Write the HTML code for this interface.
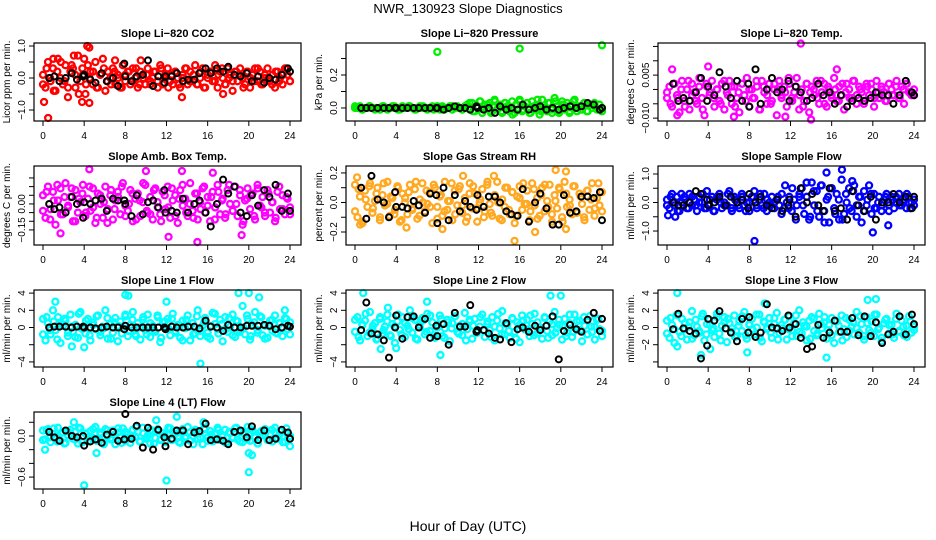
<!DOCTYPE html>
<html><head><meta charset="utf-8"><style>
html,body{margin:0;padding:0;background:#fff}
svg{display:block}
text{font-family:"Liberation Sans",sans-serif;fill:#000}
</style></head><body>
<svg id="fig" width="936" height="540" viewBox="0 0 936 540" xmlns="http://www.w3.org/2000/svg">
<text x="468" y="13" font-size="13" text-anchor="middle">NWR_130923  Slope Diagnostics</text>
<text x="468" y="531" font-size="14" text-anchor="middle">Hour of Day (UTC)</text>
</svg>
<script>
const blackX=[0.6,1.1,1.6,2.2,2.8,3.3,3.9,4.0,4.6,5.1,5.7,6.2,6.8,7.3,7.9,8.0,8.6,9.1,9.7,10.2,10.7,11.2,11.8,11.9,12.5,13.0,13.6,14.1,14.7,15.2,15.8,16.3,16.9,17.5,18.0,18.6,19.2,19.8,20.3,20.9,21.5,22.0,22.6,23.2,23.8,24.0];
const xTicks=[0,4,8,12,16,20,24];

const co2Color=[1,-3,5,-1,3,-4,6,0,-2,4,-6,2,3,-3,7,-1,1,-5,4,2,-2,5,-3,1,6,-4,2,0,3,-2,1,-3,4,-1,2,-2,3,0,-3,2,1,-2,3,-1,0,2,-3,4,-2,1,3,-1,-2,2,0,-3,1,3,-2,2,-1,4,-2,0,3,-3,1,2,-1,4,-3,2,0,-2,3,1,-4,2,-1,3,0,-2,2,-3,1,3,-1,2,-2,0,3,-1,1,-3,2,0,-2,3,1,-1];
const co2Color2=[-2,3,0,-4,2,5,-1,-3,4,1,-5,3,-2,0,2,-3,1,3,-1,-2,2,0,-3,1,2,-1,3,-2,0,1,-2,2,-1,3,0,-3,1,2,-2,0,3,-1,1,-2,2,-3,0,2,-1,1,3,-2,0,-1,2,1,-3,2,0,-1,3,-2,1,0,-2,2,-1,1,3,-1];
const co2OutX=[4.3,4.5,0.1,0.5,4.5,3.8,17.5,13.5,1,9.5,7,3,4];
const co2OutY=[1.0,0.95,-0.75,-1.25,-0.78,-0.75,-0.5,-0.6,0.6,0.55,0.55,0.7,0.6];
const co2Black=[0,0.05,-0.1,0,0.15,-0.05,0.05,0.1,-0.05,-0.15,0.15,-0.1,0,-0.25,0.45,0.05,-0.1,0.05,0.1,0.55,-0.25,0.05,-0.15,0.05,0.05,0.15,-0.1,-0.05,-0.05,0.15,0.3,0.15,0.3,0.2,0.35,0.1,0.05,0.15,-0.1,0.05,-0.15,0,-0.05,0.1,0.3,0.2];

const presColor=[0,0,1,-1,0,0,1,0,-1,0,0,1,0,-1,0,1,0,0,-1,1,0,0,1,0,-1,0,1,0,0,-1,0,1,0,0,-1,1,0,0,1,-1,0,1,0,-1,1,2,-1,3,-2,1,4,-3,2,0,3,-2,4,-1,2,-3,3,1,-2,4,-3,2,5,-2,1,3,-3,4,-1,2,-4,5,0,-2,3,-3,6,1,-2,4,-1,3,-3,2,5,-2,1,-1,3,-2,2,0,3,-1,2,-2];
const presColor2=[1,0,-1,0,1,0,0,-1,1,0,0,1,-1,0,0,1,0,-1,0,1,0,0,-1,1,0,-1,0,1,0,0,-1,1,3,-2,1,4,-1,2,-3,5,0,-2,3,1,-4,2,4,-1,3,-3,1,5,-2,0,3,-1,4,-3,2,1,-2,4,0,-1,3,-2,2,1,-1,0];
const presOutX=[8,16,24];
const presOutY=[0.34,0.36,0.38];
const presBlack=[0,0,0,0,0,0,0,0,0,0,0,0,0,0,0,0,-1,0,1,0,0,-1,1,0,-1,0,-3,1,-1,0,-1,2,-1,0,1,-1,0,-1,0,1,0,1,3,2,-1,0];

const tempColor=[-3,1,-6,2,-2,-8,3,-4,0,-7,2,-1,-5,4,-3,-9,1,-2,3,-6,0,-4,2,-7,-1,3,-5,1,-3,-8,2,-2,4,-6,0,-3,1,-7,3,-1,-5,2,-4,0,-9,3,-2,1,-6,2,-3,-1,4,-7,0,-4,2,-8,1,-2,3,-5,-1,2,-6,0,-3,4,-4,1,-2,-7,2,0,-3,3,-5,1,-1,-4,2,-2,0,-6,3,-3,1,-1,-4,2,0,-2,3,-3,1,-5,2,-1,-2,0];
const tempColor2=[-1,-5,2,-3,0,-6,3,-2,-4,1,-7,2,-1,-3,0,-5,3,-2,1,-6,-1,2,-4,0,-3,3,-7,1,-2,-5,2,0,-3,-1,4,-4,1,-2,-6,2,-1,0,-3,3,-5,1,-2,0,-4,2,-1,-3,3,-2,0,-5,1,2,-3,-1,0,-4,2,-2,1,-3,0,2,-1,-2];
const tempOutX=[0.5,4,13,14,16.5,6.5,11.5,1];
const tempOutY=[0.007,0.008,0.016,-0.0105,0.007,-0.0095,-0.0095,-0.009];
const tempBlack=[2,-4,-3,-4,-1,4,-4,1,-2,6,1,-3,3,-4,2,-6,7,-5,0,4,-1,0,3,-4,1,-1,-4,-3,2,-2,-1,-5,-2,-6,-4,-3,-4,-3,-1,-2,-2,-5,-2,3,-1,-2];

const ambColor=[5,-8,10,-3,7,-12,2,9,-6,12,-2,4,-10,8,-5,1,11,-7,3,-4,9,-11,6,0,-8,10,-3,5,-9,2,7,-6,12,-1,-4,8,-10,3,6,-7,1,11,-5,4,-9,9,-2,-6,7,-3,10,-8,2,5,-11,8,-1,3,-7,12,-4,6,-9,1,9,-5,4,-10,7,-2,11,-6,3,-8,8,0,-4,10,-7,5,-12,2,9,-3,6,-9,11,-1,4,-7,8,-5,1,-10,7,-3,5,-6,3,-2];
const ambColor2=[-4,7,-9,2,11,-6,4,-1,9,-10,3,6,-5,10,-2,-8,5,1,-11,8,-3,4,10,-7,0,6,-9,2,12,-4,-6,8,1,-10,5,-2,9,-7,3,11,-5,0,-8,6,-3,10,-1,4,-9,7,2,-6,11,-4,0,8,-10,3,5,-7,9,-2,-5,6,1,-8,10,-3,4,-6];
const ambOutX=[4.5,10,13.5,15,12.2,1.7,19.3,16.5];
const ambOutY=[0.2,0.19,0.19,-0.22,-0.19,-0.17,-0.18,0.18];
const ambBlack=[0,-3,-2,-5,4,0,-8,1,0,2,3,-4,3,2,2,0,-7,5,-6,1,2,-2,8,-5,-4,-5,3,-5,0,2,-5,-13,0,14,6,10,-5,-7,5,-1,8,4,11,-4,6,-4];

const rhColor=[12,-10,4,-14,8,-3,13,-7,1,10,-12,5,-2,14,-9,3,-5,11,-13,6,0,-8,12,-4,9,-11,2,13,-6,-1,7,-14,10,-3,4,-9,14,-5,1,-12,8,-2,11,-7,3,-10,13,-4,6,-13,0,9,-6,12,-1,-9,5,14,-11,2,-3,10,-8,7,-14,4,11,-5,-1,8,-12,13,-2,3,-9,10,-6,1,12,-13,5,-4,9,-10,14,-3,2,-8,11,-7,6,-1,-12,8,-5,13,-9,3,-2,7];
const rhColor2=[-6,9,-13,2,11,-4,6,-10,13,-1,4,-8,10,-12,3,7,-5,14,-9,0,8,-3,12,-11,5,-6,1,13,-8,9,-2,-13,6,11,-4,2,-10,14,-7,4,0,-12,10,-5,7,-9,3,13,-1,-6,9,-11,5,12,-3,-8,1,10,-13,6,-2,11,-7,4,-10,8,2,-4,13,-6];
const rhOutX=[0.2,10.5,13.5,19.5,20.5,0.5,8.5,15.5,17.5,20.5,5];
const rhOutY=[0.17,0.18,0.18,0.22,0.21,-0.15,-0.18,-0.26,-0.2,-0.18,-0.17];
const rhBlack=[10,-11,18,2,0,-10,7,-3,-3,-4,1,-2,-7,6,5,-14,10,-12,5,-6,1,-3,-5,5,-3,4,4,0,-6,-8,-9,9,-13,0,6,-4,-15,-15,5,-7,-6,4,4,3,7,-12];

const sfColor=[1,-2,3,-1,2,-3,0,2,-2,3,-1,1,-3,2,0,-2,4,-1,2,-3,1,3,-2,0,-1,4,-3,2,1,-2,3,-1,0,-3,2,4,-2,1,-1,3,-3,0,2,-2,1,-1,3,-2,0,2,-3,1,-1,2,5,-4,2,-6,7,-1,4,-5,6,-3,1,-7,5,-2,3,-6,8,-4,0,5,-3,6,-5,2,-7,4,-1,6,-4,3,-2,2,-3,1,3,-1,2,-2,0,3,-1,1,-2,2,0,-1];
const sfColor2=[-1,2,0,-3,3,1,-2,2,-1,0,3,-2,1,-3,2,0,-1,3,-2,1,-1,2,-3,0,2,-1,3,-2,1,-1,0,2,-4,6,-2,5,-6,3,-1,7,-5,4,-3,6,-7,2,5,-4,1,-6,3,-2,4,-1,2,-3,1,3,-2,0,-1,2,-3,1,2,-1,0,3,-2,1];
const sfOutX=[8.5,15.5,17,20,21.5,18,0.1,0.8];
const sfOutY=[-1.35,1.05,1.15,-1.05,-0.8,0.75,-0.45,-0.5];
const sfBlack=[0,-1,-1,0,4,3,1,-1,0,2,-1,2,0,1,-2,3,0,2,-1,-2,1,-3,-1,1,-5,5,0,3,-1,-3,5,-3,-2,-6,4,-1,-3,2,-6,0,0,3,0,2,-2,2];

const l1Color=[10,-15,5,-8,20,-3,12,-18,2,8,-10,15,-5,3,-12,18,0,-7,10,-15,6,-2,14,-9,1,20,-13,4,-6,11,-16,7,-1,13,-10,3,18,-8,5,-14,9,-3,15,-11,2,-5,12,-17,6,0,10,-9,16,-4,3,-12,8,-1,14,-15,5,-7,20,-10,2,11,-6,-13,17,4,-2,9,-16,12,-5,1,15,-11,7,-3,25,-8,10,-14,3,18,-6,13,-9,2,-12,8,-4,14,-7,5,-10,11,-2,6];
const l1Color2=[-8,12,-3,7,-14,4,10,-6,1,-11,16,-2,8,-9,3,13,-5,-1,11,-13,6,2,-7,15,-4,9,-10,0,12,-8,5,-3,14,-12,7,-1,10,-6,3,-15,9,1,-8,13,-4,6,-11,2,16,-7,4,-2,11,-9,8,-5,0,14,-10,6,-3,12,-13,2,9,-6,5,-1,10,-8];
const l1OutX=[1.2,8,8.3,19,20,15.3,12,21,2.8,4,23.5];
const l1OutY=[3,3.8,3.7,4,4,-4.2,3,3.5,-2.2,-2.3,2];
const l1Black=[0,1,1,1,0,1,1,0,0,-1,0,1,0,0,-2,2,0,0,0,0,0,0,0,-2,1,0,0,1,1,-1,8,1,0,-4,3,0,0,2,2,2,3,2,-2,0,2,1];

const l2Color=[-5,12,-15,3,8,-10,18,-2,5,-13,10,-7,1,15,-9,4,-18,7,-3,12,-11,2,20,-6,9,-14,0,11,-8,16,-4,6,-12,3,14,-10,-1,9,-16,5,13,-5,2,-9,17,-2,7,-13,10,-6,1,15,-11,4,-3,12,-15,8,-1,19,-8,3,-12,11,-5,6,-17,14,-2,9,-10,4,16,-7,0,-13,12,-4,7,-9,18,-1,3,-14,10,-6,5,-11,15,-3,8,-16,2,-8,13,-5,1,9,-2,-10];
const l2Color2=[9,-11,4,16,-6,2,-14,12,-3,7,-10,1,15,-8,5,-2,11,-13,3,8,-5,14,-9,0,10,-12,6,-1,13,-7,4,-15,9,2,-6,12,-3,7,-11,1,16,-8,5,-4,10,-13,3,8,-2,14,-9,6,-1,11,-12,4,-6,9,2,-10,15,-5,7,-3,12,-8,1,-14,10,-4];
const l2OutX=[0.8,8.3,4,19,20,2.5,7,3.2];
const l2OutY=[4,-3.2,-2.4,3.7,3.7,-2.5,3,2.3];
const l2Black=[-3,29,-7,-8,-15,-35,0,14,-13,12,13,0,10,-12,2,-10,4,-20,17,1,1,26,-5,-3,-3,-7,-12,-14,5,-17,-2,0,-5,2,-3,2,13,-37,-4,3,-2,-5,9,17,-4,10];

const l3Color=[8,-12,3,-18,15,-5,10,-2,-14,6,19,-9,1,-6,13,-15,4,9,-3,-11,16,-7,2,12,-17,5,-1,14,-10,7,-4,18,-13,3,10,-8,0,15,-16,6,-2,11,-12,4,17,-6,-1,9,-14,13,-3,5,-10,20,-7,2,-15,8,12,-4,-9,16,-1,6,-13,3,11,-18,7,-5,14,-2,-11,9,1,-8,18,-6,4,-14,12,-3,7,-10,15,0,-16,5,10,-7,3,-12,16,-4,8,-9,2,13,-6,1];
const l3Color2=[-7,11,-2,14,-10,5,1,-13,9,-4,16,-8,3,-1,12,-15,6,10,-5,-11,2,13,-9,4,-3,15,-12,7,0,-6,11,-14,3,9,-2,-10,14,-5,6,1,-13,10,-7,4,12,-3,-9,8,2,-15,11,-4,6,-1,13,-10,5,-6,15,-2,-12,9,3,-8,10,-5,1,-11,7,-3];
const l3OutX=[1,3.3,7.8,9.5,15.5,19.5,20.3,1,4.2];
const l3OutY=[4,-3.2,-2.9,2.8,-3.5,3.2,3.3,-2.2,-2.5];
const l3Black=[-2,16,-1,-4,-7,-36,-21,10,8,19,-1,-6,-16,10,-6,12,-11,-6,27,0,-1,-4,14,0,4,-12,-25,-22,3,-12,-6,8,-5,-5,11,-9,13,-10,6,-18,-8,-5,13,-8,15,4];

const l4Color=[8,-5,10,-9,3,-2,12,-7,5,-10,1,9,-4,6,-11,11,-1,4,-8,7,-3,13,-6,2,-9,10,0,-5,8,-12,5,-2,11,-7,3,-10,9,-1,6,-8,12,-4,1,-11,7,-3,10,-6,4,-9,2,11,-5,8,-1,-10,6,-3,13,-7,0,9,-4,5,-12,10,-2,7,-8,3,12,-6,-1,9,-10,4,-3,11,-5,6,-9,2,13,-7,8,-2,-11,5,1,10,-6,3,-8,12,-4,7,-1,-9,4,0];
const l4Color2=[-6,9,-2,11,-8,4,-11,7,1,-5,12,-9,3,-1,10,-7,5,-12,8,-3,2,11,-10,6,-4,0,13,-8,4,-2,9,-11,7,-5,1,12,-6,3,-9,10,-1,5,-12,8,-3,11,-7,2,-4,9,0,-10,6,-2,12,-8,4,-5,10,-1,-11,7,3,-6,9,-3,1,-9,11,-4];
const l4OutX=[4,12,20,0.2,13,11,20,20.3,5.2,3,15.6,24];
const l4OutY=[-0.72,-0.65,-0.53,-0.2,0.28,0.23,-0.25,-0.28,-0.25,0.2,0.2,-0.15];
const l4Black=[6,-2,-7,8,0,-2,0,-14,-8,-5,-10,2,6,-7,-5,32,-4,15,-17,12,-20,9,-2,-15,-4,8,8,-12,5,7,18,-6,-5,-7,-12,6,8,-2,14,-6,8,-6,-4,9,5,-4];

const rowTop=[43,166,290,412], rowBot=[121,245,367,489];
const panels=[
 {id:'co2',title:'Slope Li\u2212820 CO2',ylab:'Licor ppm per min.',c:0,r:0,col:'#ff0000',ylim:[-1.344,1.094],ticks:[-1,-0.5,0,0.5,1],labs:{'1':'1.0','0':'0.0','-1':'\u22121.0'},s:0.1,cy:co2Color,cy2:co2Color2,ox:co2OutX,oy:co2OutY,by:co2Black,bs:1},
 {id:'pressure',title:'Slope Li\u2212820 Pressure',ylab:'kPa per min.',c:1,r:0,col:'#00ee00',ylim:[-0.079,0.394],ticks:[0,0.1,0.2,0.3],labs:{'0':'0.0','0.2':'0.2'},s:0.01,cy:presColor,cy2:presColor2,ox:presOutX,oy:presOutY,by:presBlack,bs:0.01},
 {id:'li820-temp',title:'Slope Li\u2212820 Temp.',ylab:'degrees C per min.',c:2,r:0,col:'#ff00ff',ylim:[-0.011,0.0162],ticks:[-0.01,-0.005,0,0.005,0.01,0.015],labs:{'0.005':'0.005','-0.01':'\u22120.010'},s:0.001,cy:tempColor,cy2:tempColor2,ox:tempOutX,oy:tempOutY,by:tempBlack,bs:0.001},
 {id:'amb-box-temp',title:'Slope Amb. Box Temp.',ylab:'degrees C per min.',c:0,r:1,col:'#ff00ff',ylim:[-0.237,0.219],ticks:[-0.15,-0.1,-0.05,0,0.05,0.1,0.15],labs:{'0':'0.00','-0.15':'\u22120.15'},s:0.01,cy:ambColor,cy2:ambColor2,ox:ambOutX,oy:ambOutY,by:ambBlack,bs:0.01},
 {id:'gas-stream-rh',title:'Slope Gas Stream RH',ylab:'percent per min.',c:1,r:1,col:'#ffa820',ylim:[-0.288,0.247],ticks:[-0.2,-0.1,0,0.1,0.2],labs:{'0.2':'0.2','0':'0.0','-0.2':'\u22120.2'},s:0.01,cy:rhColor,cy2:rhColor2,ox:rhOutX,oy:rhOutY,by:rhBlack,bs:0.01},
 {id:'sample-flow',title:'Slope Sample Flow',ylab:'ml/min per min.',c:2,r:1,col:'#0000ff',ylim:[-1.49,1.28],ticks:[-1,-0.5,0,0.5,1],labs:{'1':'1.0','0':'0.0','-1':'\u22121.0'},s:0.1,cy:sfColor,cy2:sfColor2,ox:sfOutX,oy:sfOutY,by:sfBlack,bs:0.1},
 {id:'line1-flow',title:'Slope Line 1 Flow',ylab:'ml/min per min.',c:0,r:2,col:'#00ffff',ylim:[-4.59,4.36],ticks:[-4,-2,0,2,4],labs:{'4':'4','2':'2','0':'0','-4':'\u22124'},s:0.1,cy:l1Color,cy2:l1Color2,ox:l1OutX,oy:l1OutY,by:l1Black,bs:0.1},
 {id:'line2-flow',title:'Slope Line 2 Flow',ylab:'ml/min per min.',c:1,r:2,col:'#00ffff',ylim:[-4.59,4.36],ticks:[-4,-2,0,2,4],labs:{'4':'4','2':'2','0':'0','-4':'\u22124'},s:0.1,cy:l2Color,cy2:l2Color2,ox:l2OutX,oy:l2OutY,by:l2Black,bs:0.1},
 {id:'line3-flow',title:'Slope Line 3 Flow',ylab:'ml/min per min.',c:2,r:2,col:'#00ffff',ylim:[-4.59,4.36],ticks:[-4,-2,0,2,4],labs:{'4':'4','2':'2','0':'0','-2':'\u22122'},s:0.1,cy:l3Color,cy2:l3Color2,ox:l3OutX,oy:l3OutY,by:l3Black,bs:0.1},
 {id:'line4-flow',title:'Slope Line 4 (LT) Flow',ylab:'ml/min per min.',c:0,r:3,col:'#00ffff',ylim:[-0.774,0.35],ticks:[-0.6,-0.4,-0.2,0,0.2],labs:{'0':'0.0','-0.6':'\u22120.6'},s:0.01,cy:l4Color,cy2:l4Color2,ox:l4OutX,oy:l4OutY,by:l4Black,bs:0.01}
];
const NS='http://www.w3.org/2000/svg';
const fig=document.getElementById('fig');
function mk(tag,attrs,parent){const e=document.createElementNS(NS,tag);for(const k in attrs)e.setAttribute(k,attrs[k]);(parent||fig).appendChild(e);return e;}
panels.forEach(p=>{
  const L=34+312*p.c, R=L+267, T=rowTop[p.r], B=rowBot[p.r];
  const g=mk('g',{});
  
  
  const xs=v=>L+(v+0.875)/(25.07+0.875)*(R-L);
  const ys=v=>B-(v-p.ylim[0])/(p.ylim[1]-p.ylim[0])*(B-T);
  const t=mk('text',{x:(L+R)/2,y:T-6,'font-size':11,'font-weight':'bold','text-anchor':'middle'},g);
  t.textContent=p.title;
  
  
  const pts=mk('g',{fill:'none'},g);
  
  
  [p.cy,p.cy2].forEach(arr=>{
    const n=arr.length;
    arr.forEach((v,i)=>{
      const c=mk('circle',{cx:xs(i*24/(n-1)),cy:ys(v*p.s),r:3,stroke:p.col,'stroke-width':2.3},pts);
      
      
    });
  });
  p.ox.forEach((x,i)=>{
    const c=mk('circle',{cx:xs(x),cy:ys(p.oy[i]),r:3,stroke:p.col,'stroke-width':2.3},pts);
    
    
  });
  const m=Math.min(blackX.length,p.by.length);
  for(let i=0;i<m;i++){
    const c=mk('circle',{cx:xs(blackX[i]),cy:ys(p.by[i]*p.bs),r:3,stroke:'#000','stroke-width':2},pts);
    
    
  }
  const bx=mk('rect',{x:L,y:T,width:R-L,height:B-T,fill:'none',stroke:'#000','stroke-width':1.2},g);
  
  
  const xa=mk('g',{},g);
  
  
  mk('line',{x1:xs(0),x2:xs(24),y1:B,y2:B,stroke:'#000'},xa);
  xTicks.forEach(v=>{
    mk('line',{x1:xs(v),x2:xs(v),y1:B,y2:B+5,stroke:'#000'},xa);
    const tl=mk('text',{x:xs(v),y:B+18,'font-size':10,'text-anchor':'middle'},xa);
    tl.textContent=String(v);
    
    
  });
  const ya=mk('g',{},g);
  
  
  p.ticks.forEach(v=>{
    const y=ys(v);
    mk('line',{x1:L-5,x2:L,y1:y,y2:y,stroke:'#000'},ya);
    const key=String(v);
    if(p.labs[key]!==undefined){
      const tl=mk('text',{x:L-9,y:y,'font-size':10,'text-anchor':'middle',transform:`rotate(-90 ${L-9} ${y})`},ya);
      tl.textContent=p.labs[key];
      
      
    }
  });
  const yl=mk('text',{x:L-24,y:(T+B)/2,'font-size':10,'text-anchor':'middle',transform:`rotate(-90 ${L-24} ${(T+B)/2})`},g);
  yl.textContent=p.ylab;
  
  
});
</script>
</body></html>
